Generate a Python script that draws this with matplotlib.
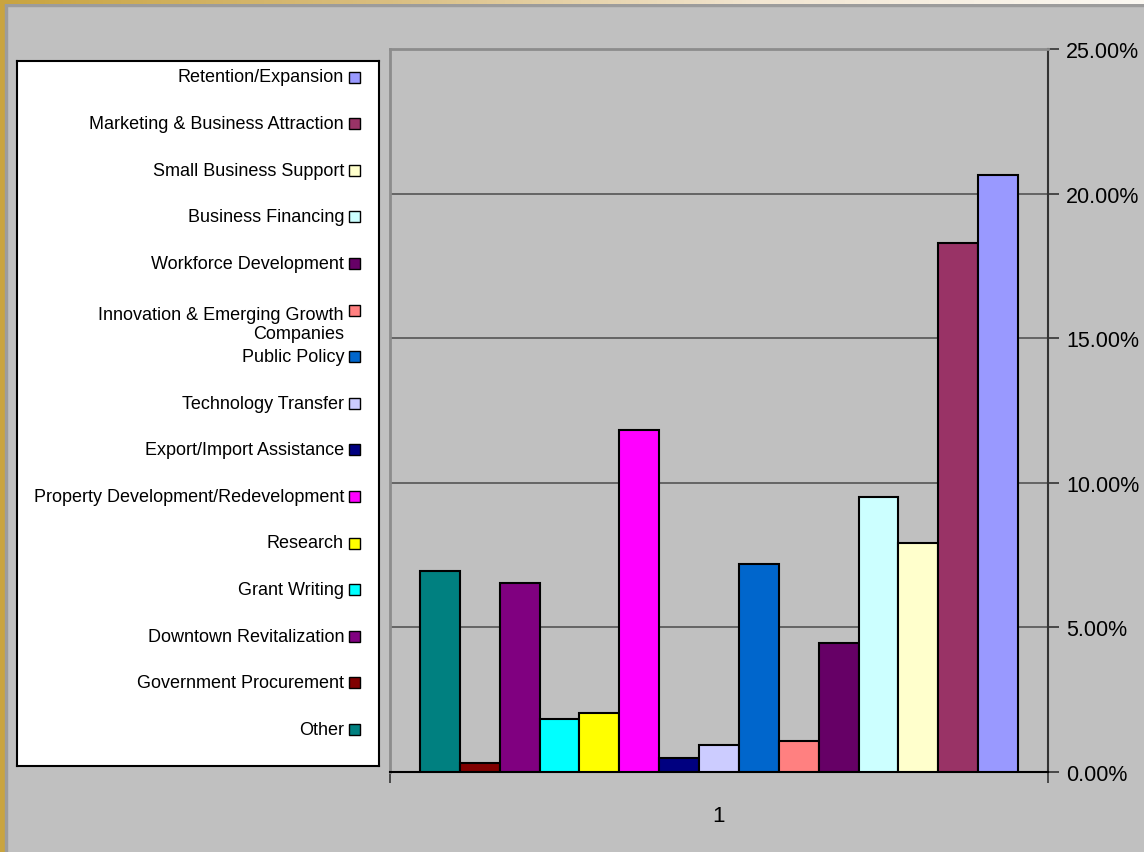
import numpy as np
import matplotlib
matplotlib.use('Agg')
import matplotlib.pyplot as plt
from matplotlib.patches import Rectangle
from matplotlib.colors import LinearSegmentedColormap

plt.rcParams['font.family'] = ['Liberation Sans', 'DejaVu Sans']

series = ['Other', 'Government Procurement', 'Downtown Revitalization', 'Grant Writing',
          'Research', 'Property Development/Redevelopment', 'Export/Import Assistance',
          'Technology Transfer', 'Public Policy', 'Innovation & Emerging Growth\nCompanies',
          'Workforce Development', 'Business Financing', 'Small Business Support',
          'Marketing & Business Attraction', 'Retention/Expansion']
values = [6.95, 0.31, 6.54, 1.83, 2.04, 11.83, 0.48, 0.93, 7.19, 1.07,
          4.46, 9.51, 7.92, 18.29, 20.64]
colors = ['#008080', '#800000', '#800080', '#00FFFF', '#FFFF00', '#FF00FF', '#000080',
          '#CCCCFF', '#0066CC', '#FF8080', '#660066', '#CCFFFF', '#FFFFCC', '#993366',
          '#9999FF']
category = '1'
yticks = [0, 5, 10, 15, 20, 25]

W, H = 1144, 853
fig = plt.figure(figsize=(W / 100, H / 100), dpi=100)
fig.patch.set_facecolor('#C0C0C0')

# gold frame: left strip and top gradient strip
fig.add_artist(Rectangle((0, 0), 5 / W, 1, transform=fig.transFigure, color='#C9A43F', zorder=5))
fig.add_artist(Rectangle((5 / W, 0), 2 / W, 1 - 5 / H, transform=fig.transFigure, color='#9C9C9C', zorder=5))
fig.add_artist(Rectangle((5 / W, 1 - 7 / H), 1, 2 / H, transform=fig.transFigure, color='#9C9C9C', zorder=5))
top = fig.add_axes([0, 1 - 5 / H, 1, 5 / H], zorder=6)
cmap = LinearSegmentedColormap.from_list('gold', ['#C9A43F', '#D9BE80', '#F2E6D2', '#FBF8F2'])
top.imshow(np.linspace(0, 1, 256)[None, :], aspect='auto', cmap=cmap, extent=[0, 1, 0, 1])
top.axis('off')

# plot area
ax = fig.add_axes([390 / W, 1 - 773 / H, (1048 - 390) / W, (773 - 50) / H])
ax.set_facecolor('#C0C0C0')
n = len(values)
group = 598 / 658
w = group / n
x = 0.5 + (np.arange(n) - (n - 1) / 2) * w
ax.bar(x, values, width=w, color=colors, edgecolor='black', linewidth=1.5, zorder=3)
ax.set_xlim(0, 1)
ax.set_ylim(0, 25)
ax.set_yticks(yticks)
ax.set_yticklabels(['{:.2f}%'.format(v) for v in yticks])
ax.yaxis.tick_right()
ax.grid(axis='y', color='#555555', linewidth=1.2, zorder=1)
ax.tick_params(axis='y', direction='out', length=8, width=1.2, color='#333333',
               labelsize=15.5, pad=5)
ax.set_xticks([0, 1])
ax.set_xticklabels(['', ''])
ax.tick_params(axis='x', which='major', direction='out', length=8, width=1.2, color='#333333')
ax.set_xticks([0.5], [category], minor=True)
ax.tick_params(axis='x', which='minor', length=0, labelsize=16, pad=24)
for side in ['top', 'left']:
    ax.spines[side].set_color('#8C8C8C')
    ax.spines[side].set_linewidth(2)
ax.spines['right'].set_color('#333333')
ax.spines['right'].set_linewidth(1.5)
ax.spines['bottom'].set_color('black')
ax.spines['bottom'].set_linewidth(1.5)

# legend box (entries listed in reverse series order, marker after text)
lx0, ly0, lx1, ly1 = 17, 62, 379, 767
lg = fig.add_axes([lx0 / W, 1 - ly1 / H, (lx1 - lx0) / W, (ly1 - ly0) / H])
lg.set_facecolor('white')
lg.set_xlim(0, lx1 - lx0)
lg.set_ylim(ly1 - ly0, 0)
lg.set_xticks([])
lg.set_yticks([])
for s in lg.spines.values():
    s.set_linewidth(1.5)
    s.set_color('black')
for row, i in enumerate(range(n - 1, -1, -1)):
    yc = 16 + row * 46.6
    lg.add_patch(Rectangle((332, yc - 5.5), 11, 11, facecolor=colors[i], edgecolor='black', linewidth=1))
    ty = yc + (14 if '\n' in series[i] else 0)
    lg.text(327, ty, series[i], ha='right', va='center', multialignment='right',
            fontsize=13, linespacing=1.1)

fig.savefig('out.png', dpi=100, facecolor=fig.get_facecolor())
